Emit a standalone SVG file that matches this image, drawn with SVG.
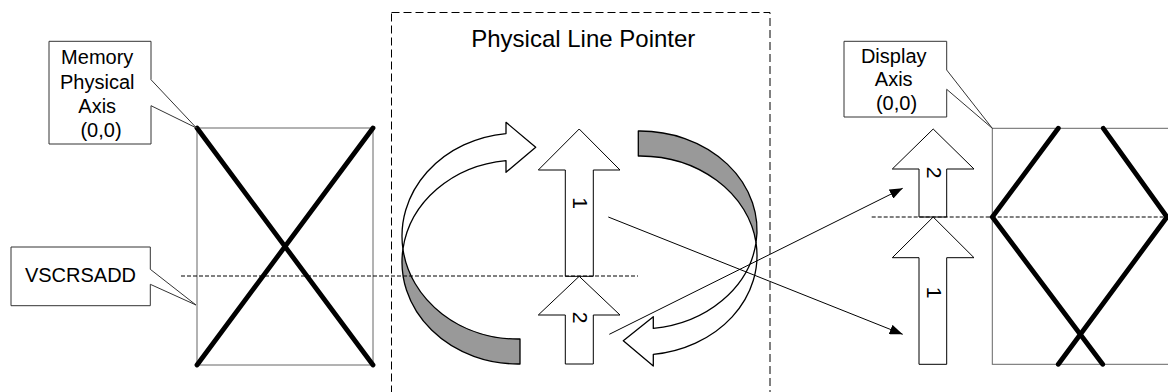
<svg xmlns="http://www.w3.org/2000/svg" width="1168" height="392" viewBox="0 0 1168 392">
  <style>
    .txt { font-family: "Liberation Sans", Arial, sans-serif; fill: #000; }
    .call { fill: #fff; stroke: #333; stroke-width: 1; }
    .frame { fill: #fff; stroke: #666; stroke-width: 1; }
    .thick { stroke: #000; stroke-width: 4.8; stroke-linecap: round; fill: none; }
    .block { fill: #fff; stroke: #000; stroke-width: 1; }
    .band { stroke: #000; stroke-width: 1.3; stroke-linejoin: round; }
    .guide { stroke: #000; stroke-width: 1; stroke-dasharray: 4 2; fill: none; }
    .conn { stroke: #000; stroke-width: 1; fill: none; marker-end: url(#ah); }
  </style>
  <defs>
    <marker id="ah" markerUnits="userSpaceOnUse" markerWidth="13" markerHeight="10" refX="13" refY="5" orient="auto">
      <path d="M0,0 L13,5 L0,10 Z" fill="#000"/>
    </marker>
  </defs>
  <rect width="1168" height="392" fill="#fff"/>

  <g id="pointer-box">
    <rect x="391.5" y="12.5" width="378.5" height="400" fill="none" stroke="#000" stroke-width="1" stroke-dasharray="8 4"/>
    <text class="txt" x="583.3" y="46.5" font-size="24" text-anchor="middle">Physical Line Pointer</text>
  </g>

  <g id="memory-frame">
    <rect class="frame" x="197" y="128" width="176" height="237"/>
    <line class="thick" x1="197" y1="128" x2="373" y2="365"/>
    <line class="thick" x1="373" y1="128" x2="197" y2="365"/>
  </g>

  <g id="display-frame">
    <rect class="frame" x="992.3" y="128.3" width="200" height="236"/>
    <polyline class="thick" points="1058.3,128.3 992.3,217 1102.7,364.3"/>
    <polyline class="thick" points="1103.3,128.3 1167,217 1058.3,364.3"/>
  </g>

  <g id="curved-arrow-left">
    <path class="band" fill="#fff" d="M402.94,249.06 A116,103 0 0 1 506,133.55 L506,122.3 L535.7,147.3 L506,172.3 L506,160.55 A116,102 0 0 0 402.94,249.06 Z"/>
    <path class="band" fill="#999" d="M402.94,249.06 A116,102 0 0 0 520,363.98 L520,338.98 A116,103 0 0 1 402.94,249.06 Z"/>
  </g>

  <g id="curved-arrow-right">
    <path class="band" fill="#999" d="M638.3,131 A117,99 0 0 1 756.03,242.72 A117,99.5 0 0 0 638.3,156 Z"/>
    <path class="band" fill="#fff" d="M756.03,242.72 A117,99.5 0 0 1 653.3,354.4 L653.3,366 L623.3,340.7 L653.3,316.7 L653.3,328.4 A117,99 0 0 0 756.03,242.72 Z"/>
  </g>

  <g id="center-arrow-1">
    <polygon class="block" points="579.2,129 620,170 593.3,170 593.3,276.3 565.3,276.3 565.3,170 538.3,170"/>
    <text class="txt" font-size="21" text-anchor="middle" transform="translate(572.7,203) rotate(90)">1</text>
  </g>

  <g id="center-arrow-2">
    <polygon class="block" points="579.2,276.3 620,315 593.3,315 593.3,364 565.3,364 565.3,315 538.3,315"/>
    <text class="txt" font-size="21" text-anchor="middle" transform="translate(572.7,317.5) rotate(90)">2</text>
  </g>

  <g id="display-arrow-2">
    <polygon class="block" points="933.2,129 974,169 946.7,169 946.7,217 919,217 919,169 892.3,169"/>
    <text class="txt" font-size="21" text-anchor="middle" transform="translate(926.7,172.5) rotate(90)">2</text>
  </g>

  <g id="display-arrow-1">
    <polygon class="block" points="933.2,217 974,257.7 946.7,257.7 946.7,364.3 919,364.3 919,257.7 892.3,257.7"/>
    <text class="txt" font-size="21" text-anchor="middle" transform="translate(926.5,292.5) rotate(90)">1</text>
  </g>

  <g id="guides">
    <line class="guide" x1="181" y1="276" x2="638" y2="276"/>
    <line class="guide" x1="871.7" y1="217" x2="1168" y2="217"/>
  </g>

  <g id="connectors">
    <line class="conn" x1="608.3" y1="217" x2="902.7" y2="334.3"/>
    <line class="conn" x1="609.3" y1="334.3" x2="902.7" y2="188.3"/>
  </g>

  <g id="memory-callout">
    <path class="call" d="M49,41.3 H151 V79.7 L196.5,128 L151,105.7 V144 H49 Z"/>
    <text class="txt" font-size="20" text-anchor="middle">
      <tspan x="100" y="64">Memory</tspan>
      <tspan x="100" y="88.5">Physical</tspan>
      <tspan x="100" y="113">Axis</tspan>
      <tspan x="101" y="137">(0,0)</tspan>
    </text>
  </g>

  <g id="vscrsadd-callout">
    <path class="call" d="M11,247 H150.3 V269.3 L196,305 L150.3,284.3 V305.7 H11 Z"/>
    <text class="txt" x="80.5" y="282" font-size="20" text-anchor="middle">VSCRSADD</text>
  </g>

  <g id="display-callout">
    <path class="call" d="M844,41.3 H946.7 V70 L992.3,128.3 L946.7,89.3 V117 H844 Z"/>
    <text class="txt" font-size="20" text-anchor="middle">
      <tspan x="896.5" y="62.5">Display</tspan>
      <tspan x="896.5" y="86">Axis</tspan>
      <tspan x="896.5" y="109.5">(0,0)</tspan>
    </text>
  </g>
</svg>
